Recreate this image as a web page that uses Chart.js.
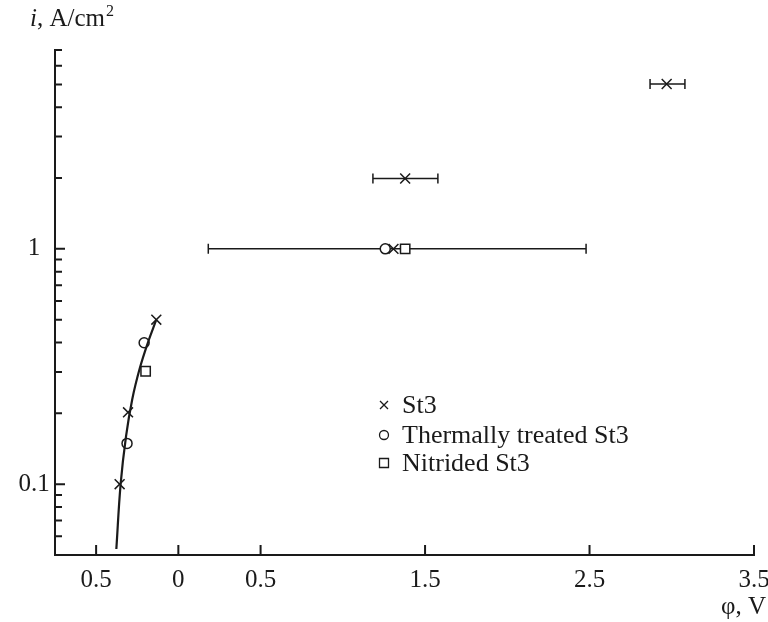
<!DOCTYPE html>
<html>
<head>
<meta charset="utf-8">
<script src="https://cdn.jsdelivr.net/npm/chart.js@4/dist/chart.umd.min.js"></script>
<style>
  html, body { margin: 0; padding: 0; background: #fff; }
  #wrap { width: 768px; height: 622px; }
</style>
</head>
<body>
<div id="wrap"><canvas id="chart" width="768" height="622"></canvas></div>
<script>
// fitted curve through the low-potential points
const curveX = [-0.377, -0.351, -0.318, -0.28, -0.235, -0.185, -0.134];
const curveY = [0.053, 0.1, 0.16, 0.23, 0.31, 0.4, 0.5];

// St3 points, with horizontal scatter
const st3X = [-0.357, -0.306, -0.134, 1.308, 1.379, 2.969];
const st3Y = [0.1, 0.202, 0.5, 1, 1.99, 5.02];
const st3ErrLow = [null, null, null, 0.182, 1.183, 2.868];
const st3ErrHigh = [null, null, null, 2.479, 1.578, 3.08];

const thermalX = [-0.312, -0.208, 1.258];
const thermalY = [0.149, 0.399, 1];

const nitridedX = [-0.199, 1.379];
const nitridedY = [0.302, 1];

const xTickValues = [-0.5, 0, 0.5, 1.5, 2.5, 3.5];
const xTickLabels = ['0.5', '0', '0.5', '1.5', '2.5', '3.5'];
const yMajorTicks = [0.1, 1];
const yMajorLabels = ['0.1', '1'];
const yMinorTicks = [0.06, 0.07, 0.08, 0.09, 0.2, 0.3, 0.4, 0.5, 0.6, 0.7, 0.8, 0.9, 2, 3, 4, 5, 6, 7];

const legendLabels = ['St3', 'Thermally treated St3', 'Nitrided St3'];

const FONT = '"Liberation Serif", "Times New Roman", serif';
const INK = '#1a1a1a';

const toPoints = (xs, ys) => xs.map((x, i) => ({ x, y: ys[i] }));

const axesDecor = {
  id: 'axesDecor',
  beforeDatasetsDraw(chart) {
    const { ctx, scales: { x, y } } = chart;
    ctx.save();
    ctx.strokeStyle = INK;
    ctx.lineWidth = 1.5;
    st3X.forEach((_, i) => {
      if (st3ErrLow[i] == null) return;
      const py = y.getPixelForValue(st3Y[i]);
      const x0 = x.getPixelForValue(st3ErrLow[i]);
      const x1 = x.getPixelForValue(st3ErrHigh[i]);
      ctx.beginPath();
      ctx.moveTo(x0, py); ctx.lineTo(x1, py);
      ctx.moveTo(x0, py - 5); ctx.lineTo(x0, py + 5);
      ctx.moveTo(x1, py - 5); ctx.lineTo(x1, py + 5);
      ctx.stroke();
    });
    ctx.restore();
  },
  afterDraw(chart) {
    const { ctx, chartArea: area, scales: { x, y } } = chart;
    ctx.save();
    ctx.strokeStyle = INK;
    ctx.lineWidth = 2;

    // inward ticks
    ctx.beginPath();
    xTickValues.forEach(v => {
      const px = x.getPixelForValue(v);
      ctx.moveTo(px, area.bottom); ctx.lineTo(px, area.bottom - 10);
    });
    yMajorTicks.forEach(v => {
      const py = y.getPixelForValue(v);
      ctx.moveTo(area.left, py); ctx.lineTo(area.left + 10, py);
    });
    yMinorTicks.forEach(v => {
      const py = y.getPixelForValue(v);
      ctx.moveTo(area.left, py); ctx.lineTo(area.left + 7, py);
    });
    ctx.stroke();

    // tick labels
    ctx.fillStyle = INK;
    ctx.font = '25px ' + FONT;
    ctx.textAlign = 'center';
    ctx.textBaseline = 'middle';
    xTickValues.forEach((v, i) => {
      ctx.fillText(xTickLabels[i], x.getPixelForValue(v), area.bottom + 25);
    });
    yMajorTicks.forEach((v, i) => {
      ctx.fillText(yMajorLabels[i], 34, y.getPixelForValue(v));
    });

    // axis titles
    ctx.textAlign = 'right';
    ctx.fillText('φ, V', 766, area.bottom + 52);
    ctx.textAlign = 'left';
    ctx.textBaseline = 'alphabetic';
    ctx.font = 'italic 25px ' + FONT;
    ctx.fillText('i', 30, 26);
    let tx = 30 + ctx.measureText('i').width;
    ctx.font = '25px ' + FONT;
    ctx.fillText(', A/cm', tx, 26);
    tx += ctx.measureText(', A/cm').width;
    ctx.font = '16px ' + FONT;
    ctx.fillText('2', tx + 1, 16);

    // legend
    const lx = 384, ly = [405, 435, 463];
    ctx.font = '26px ' + FONT;
    ctx.textBaseline = 'middle';
    ctx.lineWidth = 1.3;
    legendLabels.forEach((label, i) => {
      const cy = ly[i];
      ctx.beginPath();
      if (i === 0) {
        ctx.moveTo(lx - 4, cy - 4); ctx.lineTo(lx + 4, cy + 4);
        ctx.moveTo(lx - 4, cy + 4); ctx.lineTo(lx + 4, cy - 4);
      } else if (i === 1) {
        ctx.arc(lx, cy, 4.5, 0, Math.PI * 2);
      } else {
        ctx.rect(lx - 4.5, cy - 4.5, 9, 9);
      }
      ctx.stroke();
      ctx.fillText(label, lx + 18, cy + 1);
    });
    ctx.restore();
  }
};

new Chart(document.getElementById('chart'), {
  type: 'scatter',
  data: {
    datasets: [
      {
        label: 'fit',
        data: toPoints(curveX, curveY),
        showLine: true,
        borderColor: INK,
        borderWidth: 2.2,
        pointRadius: 0,
        tension: 0.4,
      },
      {
        label: legendLabels[0],
        data: toPoints(st3X, st3Y),
        pointStyle: 'crossRot',
        pointRadius: 7,
        borderColor: INK,
        borderWidth: 1.5,
      },
      {
        label: legendLabels[1],
        data: toPoints(thermalX, thermalY),
        pointStyle: 'circle',
        pointRadius: 5,
        backgroundColor: '#fff',
        borderColor: INK,
        borderWidth: 1.5,
      },
      {
        label: legendLabels[2],
        data: toPoints(nitridedX, nitridedY),
        pointStyle: 'rect',
        pointRadius: 6.6,
        backgroundColor: '#fff',
        borderColor: INK,
        borderWidth: 1.5,
      },
    ],
  },
  options: {
    responsive: false,
    devicePixelRatio: 1,
    animation: false,
    layout: { padding: { top: 50, right: 14, left: 0, bottom: 0 } },
    scales: {
      x: {
        type: 'linear',
        min: -0.75,
        max: 3.5,
        grid: { display: false },
        border: { display: true, color: INK, width: 2 },
        ticks: { display: false },
        afterFit: (scale) => { scale.height = 67; },
      },
      y: {
        type: 'logarithmic',
        min: 0.05,
        max: 7,
        grid: { display: false },
        border: { display: true, color: INK, width: 2 },
        ticks: { display: false },
        afterFit: (scale) => { scale.width = 55; },
      },
    },
    plugins: {
      legend: { display: false },
      tooltip: { enabled: false },
    },
  },
  plugins: [axesDecor],
});
</script>
</body>
</html>
